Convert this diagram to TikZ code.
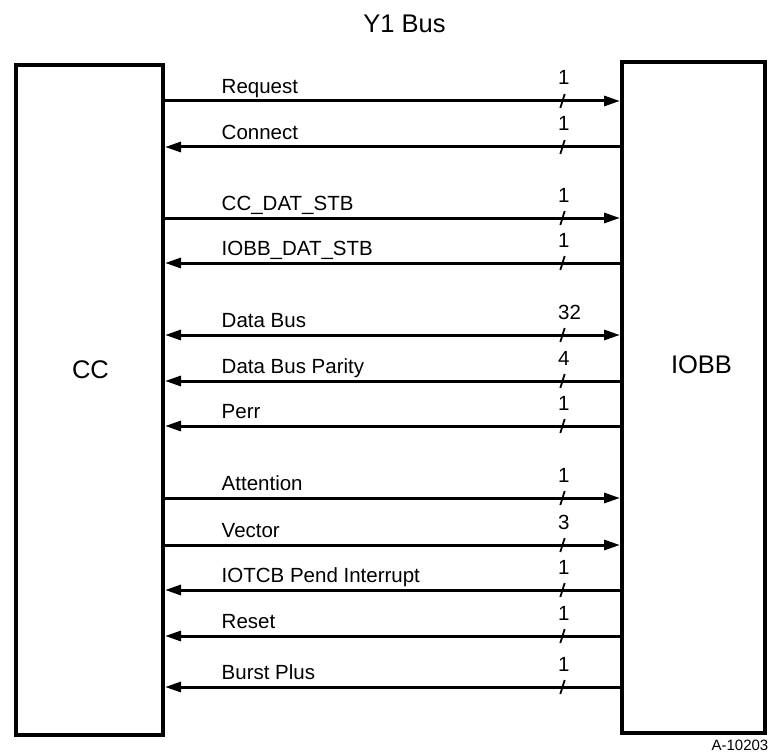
\documentclass[tikz,border=0pt]{standalone}
\usepackage{fontspec}
\setmainfont{Liberation Sans}
\usetikzlibrary{arrows.meta}
\tikzset{
  box/.style={draw, line width=4pt, inner sep=0pt},
  sig/.style={line width=3pt},
  tk/.style={line width=1.8pt},
  lab/.style={anchor=base west, inner sep=0pt, font=\fontsize{20.5}{22}\selectfont},
  num/.style={anchor=base west, inner sep=0pt, font=\fontsize{20.5}{22}\selectfont},
  big/.style={inner sep=0pt, font=\fontsize{25.5}{28}\selectfont},
  >={Triangle[length=16pt,width=10pt]}
}
\newcommand{\sigline}[5]{%
  \coordinate (L#1) at (cc.east |- 0,#2);
  \coordinate (R#1) at (iobb.west |- 0,#2);
  \draw[sig,#5] (L#1) -- (R#1);
  \node[lab] (t#1) at (221.5,#2-7.5) {#3};
  \node[num] (n#1) at (558,#2-16) {#4};
  \draw[tk] (562.5,#2) ++(-2.2,7) -- ++(4.4,-14);
}
\begin{document}
\begin{tikzpicture}[x=1pt,y=-1pt]
\useasboundingbox[fill=white] (0,0) rectangle (770,754);
\node[big, anchor=base] (title) at (404.5,32.7) {Y1 Bus};
\node[box, minimum width=147pt, minimum height=669.5pt] (cc) at (89.5,400.25) {};
\node[box, minimum width=143pt, minimum height=670.5pt] (iobb) at (693.5,397.75) {};
\node[big] (cclab) at (90.5,369.5) {CC};
\node[big] (ioblab) at (701.5,364.5) {IOBB};
\sigline{a}{101}{Request}{1}{->}
\sigline{b}{147}{Connect}{1}{<-}
\sigline{c}{218}{CC\_DAT\_STB}{1}{->}
\sigline{d}{263}{IOBB\_DAT\_STB}{1}{<-}
\sigline{e}{335}{Data Bus}{32}{<->}
\sigline{f}{381}{Data Bus Parity}{4}{<-}
\sigline{g}{426}{Perr}{1}{<-}
\sigline{h}{498}{Attention}{1}{->}
\sigline{i}{545}{Vector}{3}{->}
\sigline{j}{590}{IOTCB Pend Interrupt}{1}{<-}
\sigline{k}{636}{Reset}{1}{<-}
\sigline{l}{687}{Burst Plus}{1}{<-}
\node[anchor=base east, inner sep=0pt, font=\fontsize{15}{16}\selectfont] (ref) at (768.5,750.5) {A-10203};
\end{tikzpicture}
\end{document}
